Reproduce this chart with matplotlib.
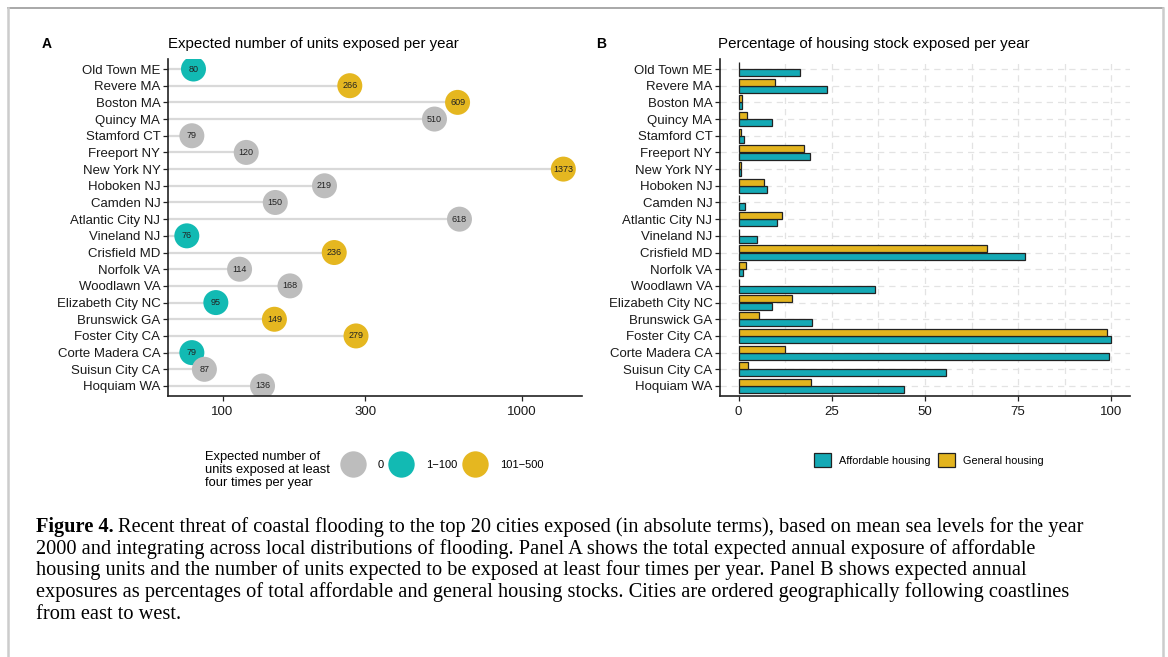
import numpy as np
import matplotlib
matplotlib.use("Agg")
import matplotlib.pyplot as plt
from matplotlib.lines import Line2D
from matplotlib.patches import Patch

plt.rcParams['font.family'] = ['Liberation Sans', 'DejaVu Sans']

cities = ['Old Town ME', 'Revere MA', 'Boston MA', 'Quincy MA', 'Stamford CT',
          'Freeport NY', 'New York NY', 'Hoboken NJ', 'Camden NJ', 'Atlantic City NJ',
          'Vineland NJ', 'Crisfield MD', 'Norfolk VA', 'Woodlawn VA', 'Elizabeth City NC',
          'Brunswick GA', 'Foster City CA', 'Corte Madera CA', 'Suisun City CA', 'Hoquiam WA']
units_exposed = [80, 266, 609, 510, 79, 120, 1373, 219, 150, 618,
                 76, 236, 114, 168, 95, 149, 279, 79, 87, 136]
# class of units exposed at least four times per year
freq_class = ['1-100', '101-500', '101-500', '0', '0', '0', '101-500', '0', '0', '0',
              '1-100', '101-500', '0', '0', '1-100', '101-500', '101-500', '1-100', '0', '0']
pct_affordable = [16.5, 23.6, 0.8, 9.0, 1.5, 19.1, 0.5, 7.6, 1.6, 10.3,
                  4.9, 76.7, 1.1, 36.6, 9.0, 19.6, 100.0, 99.4, 55.6, 44.4]
pct_general = [0.2, 9.8, 1.0, 2.3, 0.5, 17.5, 0.5, 6.7, 0.2, 11.7,
               0.1, 66.5, 2.0, 0.2, 14.2, 5.5, 98.7, 12.4, 2.6, 19.4]

class_labels = ['0', '1-100', '101-500']
class_names = ['0', '1\u2212100', '101\u2212500']
class_colors = {'0': '#BDBDBD', '1-100': '#12BAB3', '101-500': '#E5B720'}
col_aff = '#14A9B5'
col_gen = '#E3B41E'

W, H = 1168, 657
fig = plt.figure(figsize=(W / 100, H / 100), dpi=100)

def px(x0, y0, x1, y1):
    return [x0 / W, 1 - y1 / H, (x1 - x0) / W, (y1 - y0) / H]

ypos = np.arange(len(cities))

# ---- panel A
axA = fig.add_axes(px(168, 59, 582, 396))
axA.set_xscale('log')
xmin = 10 ** 1.818
axA.set_xlim(xmin, 10 ** 3.2)
axA.hlines(ypos, xmin, units_exposed, color='#D9D9D9', lw=1.6, zorder=1)
cols = [class_colors[c] for c in freq_class]
axA.scatter(units_exposed, ypos, s=18 ** 2, c=cols, edgecolors='none', zorder=2)
for v, y in zip(units_exposed, ypos):
    axA.text(v, y, str(v), ha='center', va='center', fontsize=6.5, color='#222222', zorder=3)
axA.set_xticks([100, 300, 1000])
axA.set_xticklabels(['100', '300', '1000'])
axA.xaxis.set_minor_locator(matplotlib.ticker.NullLocator())

# ---- panel B
axB = fig.add_axes(px(720, 59, 1130, 396))
bh = 0.42
axB.barh(ypos + 0.215, pct_affordable, height=bh, color=col_aff, edgecolor='#222222', lw=0.9, zorder=2)
axB.barh(ypos - 0.215, pct_general, height=bh, color=col_gen, edgecolor='#222222', lw=0.9, zorder=2)
axB.set_xlim(-5, 105)
axB.set_xticks([0, 25, 50, 75, 100])
axB.set_xticks([12.5, 37.5, 62.5, 87.5], minor=True)
axB.grid(True, which='both', axis='x', ls=(0, (5, 4)), color='#E3E3E3', lw=0.9)
axB.grid(True, which='major', axis='y', ls=(0, (5, 4)), color='#E3E3E3', lw=0.9)
axB.tick_params(axis='x', which='minor', length=0)
axB.set_axisbelow(True)

for ax in (axA, axB):
    ax.set_ylim(len(cities) - 0.4, -0.6)
    ax.set_yticks(ypos)
    ax.set_yticklabels(cities)
    for s in ('top', 'right'):
        ax.spines[s].set_visible(False)
    for s in ('left', 'bottom'):
        ax.spines[s].set_color('#222222')
        ax.spines[s].set_linewidth(1.2)
    ax.tick_params(axis='both', which='major', labelsize=9.5, color='#222222',
                   labelcolor='#1a1a1a', length=3.5, width=0.9, pad=2)
    ax.tick_params(axis='x', pad=4)

# titles
fig.text(42 / W, 1 - 44 / H, 'A', fontsize=10, fontweight='bold', va='center')
fig.text(168 / W, 1 - 44 / H, 'Expected number of units exposed per year', fontsize=10.85, va='center')
fig.text(596 / W, 1 - 44 / H, 'B', fontsize=10, fontweight='bold', va='center')
fig.text(718 / W, 1 - 44 / H, 'Percentage of housing stock exposed per year', fontsize=10.9, va='center')

# legend A
fig.text(205 / W, 1 - 470 / H, 'Expected number of\nunits exposed at least\nfour times per year',
         fontsize=9.3, va='center', linespacing=1.08)
hA = [Line2D([], [], ls='none', marker='o', markersize=19, markeredgewidth=0,
             color=class_colors[c]) for c in class_labels]
fig.legend(hA, class_names, loc='center left', bbox_to_anchor=(342 / W, 1 - 465 / H),
           ncol=3, frameon=False, fontsize=8, handlelength=2, handletextpad=1.25,
           columnspacing=0.55, borderpad=0, borderaxespad=0)

# legend B
hB = [Patch(facecolor=col_aff, edgecolor='#222222', lw=0.9),
      Patch(facecolor=col_gen, edgecolor='#222222', lw=0.9)]
fig.legend(hB, ['Affordable housing', 'General housing'], loc='center left',
           bbox_to_anchor=(814 / W, 1 - 460 / H), ncol=2, frameon=False, fontsize=7.8,
           handlelength=1.6, handleheight=1.5, handletextpad=0.7, columnspacing=0.7,
           borderpad=0, borderaxespad=0)

# frame
fig.add_artist(Line2D([8 / W, 1163 / W], [1 - 8 / H, 1 - 8 / H], color='#A8A8A8', lw=1.4))
fig.add_artist(Line2D([8 / W, 8 / W], [1 - 8 / H, 0], color='#CCCCCC', lw=1.8))
fig.add_artist(Line2D([1163 / W, 1163 / W], [1 - 8 / H, 0], color='#CCCCCC', lw=1.8))

# caption
cap_lines = [
    'Recent threat of coastal flooding to the top 20 cities exposed (in absolute terms), based on mean sea levels for the year',
    '2000 and integrating across local distributions of flooding. Panel A shows the total expected annual exposure of affordable',
    'housing units and the number of units expected to be exposed at least four times per year. Panel B shows expected annual',
    'exposures as percentages of total affordable and general housing stocks. Cities are ordered geographically following coastlines',
    'from east to west.',
]
cap_fs = 14.7
renderer = fig.canvas.get_renderer()
base = 532
for i, line in enumerate(cap_lines):
    yb = 1 - (base + i * 21.7) / H
    x0 = 36
    if i == 0:
        t = fig.text(x0 / W, yb, 'Figure 4.', fontsize=cap_fs, fontweight='bold',
                     family='Liberation Serif', va='baseline')
        bb = t.get_window_extent(renderer)
        x0 = bb.x1 + 4
    fig.text(x0 / W, yb, line, fontsize=cap_fs, family='Liberation Serif', va='baseline')

fig.savefig('out.png', dpi=100)
